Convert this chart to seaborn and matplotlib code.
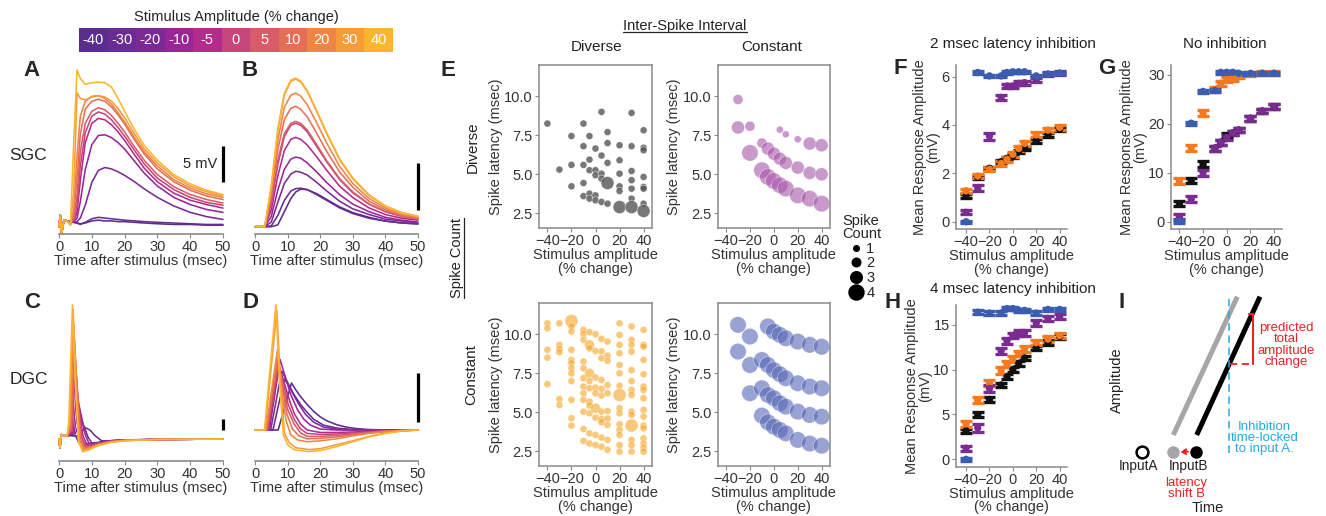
import numpy as np
import matplotlib
matplotlib.use('Agg')
import matplotlib.pyplot as plt
from matplotlib.colors import ListedColormap
from matplotlib.lines import Line2D
from matplotlib.ticker import FormatStrFormatter
import seaborn as sns

# ---------------- data ----------------
AMPS = [-40, -30, -20, -10, -5, 0, 5, 10, 20, 30, 40]
AMP_LABELS = ['-40', '-30', '-20', '-10', '-5', '0', '5', '10', '20', '30', '40']
AMP_COLORS = ['#5b2d8e', '#6a2b92', '#7b2a95', '#9a2597', '#b32b8b', '#c6467a',
              '#d65c69', '#e46f56', '#ee8446', '#f69c39', '#fbb530']

# Panel A (SGC, recorded) : common time grid
A_T = [0, 0.4, 0.8, 1.5, 2.5, 3.5, 4.5, 5.5, 6.5, 8, 10, 12, 14, 16, 18, 20, 23, 26, 30, 35, 40, 45, 50]
A_V = {
    40: [0, 1.6, -1.0, 0.9, 0.8, 0.2, 12, 22, 20.8, 20.0, 20.2, 20.3, 20.2, 19.6, 18.0, 16.2, 13.6, 11.4, 9.3, 7.3, 6.0, 5.1, 4.5],
    30: [0, 1.6, -1.0, 0.9, 0.8, 0.2, 5, 18.8, 18.0, 17.8, 18.2, 18.4, 18.2, 17.6, 16.6, 15.3, 13.0, 10.9, 8.9, 7.0, 5.7, 4.9, 4.3],
    20: [0, 1.6, -1.0, 0.9, 0.8, 0.3, 2.5, 10, 15.5, 17.6, 18.3, 18.4, 18.0, 17.2, 16.0, 14.7, 12.5, 10.5, 8.5, 6.6, 5.4, 4.6, 4.1],
    10: [0, 1.6, -1.0, 0.9, 0.8, 0.4, 1.5, 7, 13, 16.5, 17.6, 17.9, 17.6, 16.8, 15.7, 14.4, 12.2, 10.2, 8.1, 6.3, 5.1, 4.3, 3.8],
    5: [0, 1.6, -1.0, 0.9, 0.8, 0.5, 1.0, 4.5, 10.5, 14.5, 16.2, 16.7, 16.4, 15.6, 14.5, 13.3, 11.2, 9.3, 7.3, 5.6, 4.5, 3.8, 3.3],
    0: [0, 1.6, -1.0, 0.9, 0.8, 0.5, 0.9, 3.0, 8.5, 13.2, 15.5, 16.1, 15.8, 15.0, 13.9, 12.7, 10.7, 8.8, 6.8, 5.2, 4.1, 3.4, 3.0],
    -5: [0, 1.6, -1.0, 0.9, 0.8, 0.5, 0.8, 2.0, 6.5, 11.8, 14.5, 15.2, 15.0, 14.3, 13.3, 12.1, 10.1, 8.2, 6.3, 4.7, 3.7, 3.1, 2.6],
    -10: [0, 1.6, -1.0, 0.9, 0.8, 0.6, 0.7, 1.2, 3.5, 8.0, 11.5, 12.8, 12.9, 12.5, 11.8, 10.9, 9.2, 7.5, 5.7, 4.1, 3.1, 2.4, 2.0],
    -20: [0, 1.6, -1.0, 0.9, 0.8, 0.6, 0.6, 0.7, 1.2, 3.0, 6.2, 7.9, 8.3, 8.1, 7.7, 7.2, 6.3, 5.3, 4.1, 2.9, 2.0, 1.4, 1.0],
    -30: [0, 1.6, -1.0, 0.9, 0.8, 0.7, 0.6, 0.5, 0.3, 0.6, 1.1, 1.3, 1.2, 1.1, 1.0, 0.9, 0.8, 0.7, 0.6, 0.5, 0.4, 0.3, 0.3],
    -40: [0, 1.6, -1.0, 0.9, 0.8, 0.7, 0.6, 0.5, 0.4, 0.5, 0.8, 0.9, 0.8, 0.8, 0.7, 0.7, 0.6, 0.5, 0.4, 0.3, 0.3, 0.2, 0.2],
}

# Panel B (SGC, model)
B_T = [0, 3, 5, 7, 9, 11, 12.5, 14, 16, 19, 22, 26, 30, 35, 40, 45, 50]
B_V = {
    40: [0, 0, 4.4, 10.4, 14.2, 15.6, 15.8, 15.5, 14.5, 12.3, 10.0, 7.2, 5.2, 3.4, 2.2, 1.5, 1.1],
    30: [0, 0, 4.2, 10.2, 14.0, 15.5, 15.7, 15.4, 14.4, 12.2, 9.9, 7.1, 5.1, 3.3, 2.2, 1.5, 1.1],
    20: [0, 0, 3.8, 9.2, 12.7, 14.0, 14.2, 13.9, 13.0, 11.0, 8.9, 6.4, 4.6, 3.0, 2.0, 1.3, 1.0],
    10: [0, 0, 3.3, 8.2, 11.4, 12.6, 12.8, 12.5, 11.7, 9.9, 8.0, 5.8, 4.2, 2.7, 1.8, 1.2, 0.9],
    5: [0, 0, 2.8, 7.1, 9.9, 11.0, 11.2, 11.0, 10.3, 8.7, 7.0, 5.1, 3.7, 2.4, 1.6, 1.1, 0.8],
    0: [0, 0, 2.4, 6.6, 9.6, 10.8, 11.0, 10.8, 10.1, 8.5, 6.9, 5.0, 3.6, 2.4, 1.6, 1.1, 0.8],
    -5: [0, 0, 1.8, 5.4, 8.1, 9.3, 9.5, 9.3, 8.7, 7.4, 6.0, 4.3, 3.1, 2.0, 1.3, 0.9, 0.7],
    -10: [0, 0, 1.1, 3.9, 6.1, 7.2, 7.4, 7.3, 6.8, 5.8, 4.7, 3.4, 2.4, 1.6, 1.0, 0.7, 0.5],
    -20: [0, 0, 0.5, 2.6, 4.6, 5.6, 5.9, 5.8, 5.5, 4.7, 3.8, 2.7, 1.9, 1.3, 0.8, 0.6, 0.4],
    -30: [0, 0, 0.1, 1.2, 2.8, 3.8, 4.05, 4.1, 3.95, 3.4, 2.8, 2.0, 1.4, 0.9, 0.6, 0.4, 0.3],
    -40: [0, 0, 0, 0.2, 1.6, 3.0, 3.7, 4.0, 3.95, 3.5, 2.9, 2.1, 1.5, 1.0, 0.6, 0.4, 0.3],
}

# Panel C (DGC, recorded)
C_PRE_T = [0, 0.3, 0.7, 1.5, 2.5]
C_PRE_V = [0, -4, 2, 1.5, 1.5]
C_T = {
    40: [3.0, 4.1, 5.0, 5.9, 7.2, 9, 12, 16, 20, 30, 50],
    30: [3.2, 4.3, 5.2, 6.1, 7.4, 9, 12, 16, 20, 30, 50],
    20: [3.4, 4.5, 5.4, 6.3, 7.6, 9.2, 12, 16, 20, 30, 50],
    10: [3.6, 4.7, 5.6, 6.5, 7.8, 9.4, 12, 16, 20, 30, 50],
    5: [3.8, 4.9, 5.8, 6.7, 8.0, 9.6, 12, 16, 20, 30, 50],
    0: [4.0, 5.1, 6.0, 6.9, 8.2, 9.8, 12, 16, 20, 30, 50],
    -5: [4.3, 5.5, 6.4, 7.3, 8.6, 10, 12.5, 16, 20, 30, 50],
    -10: [4.6, 6.1, 7.0, 8.0, 9.2, 10.5, 13, 16, 20, 30, 50],
    -20: [5.0, 6.6, 7.6, 8.8, 10, 11.5, 14, 16, 20, 30, 50],
    -30: [3.5, 5.5, 6.5, 8.0, 9.5, 11, 13, 16, 20, 30, 50],
    -40: [3.5, 5.0, 6.0, 7.0, 9, 11, 13, 16, 20, 30, 50],
}
C_V = {
    40: [8, 61, 25, -1, -5.8, -5, -3, -1.5, -0.8, -0.2, 0],
    30: [8, 59, 24, -1, -5.3, -4.6, -2.8, -1.4, -0.7, -0.2, 0],
    20: [7, 52, 22, -0.5, -4.8, -4.2, -2.6, -1.3, -0.7, -0.2, 0],
    10: [6, 45, 20, 0, -4.3, -3.8, -2.4, -1.2, -0.6, -0.2, 0],
    5: [5, 38, 17, 0.5, -3.8, -3.4, -2.2, -1.1, -0.6, -0.2, 0],
    0: [4, 32, 15, 1, -3.3, -3.0, -2.0, -1.0, -0.5, -0.2, 0],
    -5: [3.5, 22, 11, 1.5, -2.8, -2.6, -1.8, -0.9, -0.5, -0.2, 0],
    -10: [3, 15.5, 9, 2, -2.2, -2.2, -1.5, -0.8, -0.4, -0.2, 0],
    -20: [2.5, 9.4, 6, 1, -1.8, -1.8, -1.2, -0.7, -0.4, -0.2, 0],
    -30: [1.5, 1.3, 2.5, 5.2, 4, 1.5, -0.8, -1.0, -0.6, -0.2, 0],
    -40: [1.8, 1.6, -1.5, -2.0, -2.1, -1.8, -1.2, -0.8, -0.5, -0.2, 0],
}

# Panel D (DGC, model)
D_T = {
    40: [0, 2.9, 6.4, 7.5, 8.7, 10, 12, 16, 20, 25, 30, 35, 40, 45, 50],
    30: [0, 3.1, 6.7, 7.8, 9.0, 10.5, 12.5, 16.5, 20, 25, 30, 35, 40, 45, 50],
    20: [0, 3.3, 6.9, 8.2, 9.5, 11, 13, 16, 20, 25, 30, 35, 40, 45, 50],
    10: [0, 3.5, 7.0, 8.4, 9.8, 11.5, 13.5, 16, 20, 25, 30, 35, 40, 45, 50],
    5: [0, 3.7, 7.1, 8.6, 10, 12, 14, 16, 20, 25, 30, 35, 40, 45, 50],
    0: [0, 3.9, 7.2, 8.8, 10.2, 12, 14, 16, 20, 25, 30, 35, 40, 45, 50],
    -5: [0, 4.1, 7.4, 9.0, 10.5, 12, 14, 16, 20, 25, 30, 35, 40, 45, 50],
    -10: [0, 4.4, 7.7, 9.3, 11, 13, 15, 17, 20, 25, 30, 35, 40, 45, 50],
    -20: [0, 4.8, 8.2, 9.8, 11.5, 13.5, 15.5, 18, 21, 25, 30, 35, 40, 45, 50],
    -30: [0, 5.5, 9.0, 10.5, 12, 14, 16, 18, 21, 25, 30, 35, 40, 45, 50],
    -40: [0, 7.1, 11.2, 12.5, 14, 16, 18, 20, 22, 25, 28, 31, 35, 40, 50],
}
D_V = {
    40: [0, 0, 12.8, 5.0, -0.5, -1.5, -2.0, -2.2, -2.1, -1.7, -1.2, -0.7, -0.35, -0.1, 0],
    30: [0, 0, 12.2, 5.0, -0.3, -1.3, -1.8, -2.0, -1.9, -1.5, -1.1, -0.65, -0.3, -0.1, 0],
    20: [0, 0, 8.2, 4.0, 1.0, -0.5, -1.0, -1.2, -1.1, -0.9, -0.6, -0.35, -0.15, -0.05, 0],
    10: [0, 0, 7.6, 4.3, 1.6, 0.1, -0.6, -0.9, -0.85, -0.7, -0.5, -0.3, -0.15, -0.05, 0],
    5: [0, 0, 7.0, 4.4, 2.1, 0.6, -0.3, -0.65, -0.65, -0.55, -0.4, -0.25, -0.1, -0.05, 0],
    0: [0, 0, 6.8, 4.6, 2.6, 1.1, 0.1, -0.35, -0.45, -0.4, -0.3, -0.2, -0.1, -0.05, 0],
    -5: [0, 0, 6.5, 4.8, 3.1, 1.7, 0.6, 0, -0.25, -0.25, -0.2, -0.15, -0.1, -0.03, 0],
    -10: [0, 0, 7.2, 5.4, 3.6, 2.1, 1.1, 0.5, 0.1, 0, 0, 0, 0, 0, 0],
    -20: [0, 0, 6.0, 5.0, 3.8, 2.6, 1.6, 0.8, 0.3, 0.1, 0, 0, 0, 0, 0],
    -30: [0, 0, 5.2, 4.5, 3.6, 2.6, 1.8, 1.1, 0.5, 0.2, 0.05, 0, 0, 0, 0],
    -40: [0, 0, 4.8, 4.1, 3.4, 2.6, 1.9, 1.35, 0.95, 0.55, 0.3, 0.15, 0.05, 0, 0],
}

# Panel E : spike latency scatter; {amplitude: (latencies, spike counts)}
E_DIV_DIV = {
    -40: ([8.25], [1]),
    -30: ([5.3], [1]),
    -20: ([7.45, 5.6, 4.23], [1, 1, 1]),
    -10: ([8.25, 6.8, 5.6, 4.44, 3.6], [1, 1, 1, 1, 1]),
    -5: ([7.45, 5.94, 5.26, 3.76, 3.44], [1, 1, 1, 1, 1]),
    0: ([6.65, 5.26, 4.94, 3.65, 3.33], [1, 1, 1, 1, 1]),
    5: ([9.0, 6.2, 5.04, 4.72, 3.23], [1, 1, 1, 1, 1]),
    10: ([7.7, 7.0, 5.73, 4.44, 3.12], [1, 1, 1, 3, 1]),
    20: ([6.86, 5.9, 5.04, 4.23, 3.93, 2.9], [1, 1, 1, 1, 1, 3]),
    30: ([8.93, 6.8, 5.21, 4.62, 4.08, 3.44, 2.9], [1, 1, 1, 1, 1, 1, 3]),
    40: ([7.82, 6.7, 6.54, 4.83, 4.19, 4.08, 3.12, 2.65], [1, 1, 1, 1, 1, 1, 1, 3]),
}
E_CON_DIV = {
    -30: ([9.79, 8.0], [2, 3]),
    -20: ([8.08, 6.37], [2, 4]),
    -10: ([7.0, 5.26], [2, 4]),
    -5: ([6.65, 4.83], [3, 4]),
    0: ([6.32, 4.57], [3, 4]),
    5: ([7.86, 6.0, 4.3], [1, 3, 4]),
    10: ([7.56, 5.73, 4.08], [1, 3, 4]),
    20: ([7.24, 5.43, 3.65], [1, 3, 4]),
    30: ([6.97, 5.09, 3.44], [3, 3, 4]),
    40: ([6.86, 5.0, 3.12], [3, 3, 4]),
}
E_DIV_CON = {
    -40: ([10.7, 10.38, 9.0, 8.5, 6.8], [1, 1, 1, 1, 1]),
    -30: ([10.7, 9.32, 9.06, 8.85, 5.85, 5.47], [1, 1, 1, 1, 1, 1]),
    -20: ([10.85, 10.5, 10.17, 9.0, 8.35, 8.14, 7.82, 7.5, 7.0, 5.8, 4.62, 4.15],
          [3, 1, 1, 1, 1, 1, 1, 1, 1, 1, 1, 1]),
    -10: ([10.28, 10.0, 9.64, 8.25, 7.82, 7.18, 6.65, 6.22, 5.8, 5.04, 3.93, 3.16],
          [1, 1, 1, 1, 1, 1, 1, 1, 1, 1, 1, 1]),
    -5: ([10.13, 9.32, 9.1, 7.5, 7.0, 6.54, 5.68, 5.43, 4.94, 3.65, 3.0],
         [1, 2, 1, 2, 1, 1, 1, 1, 1, 1, 1]),
    0: ([10.0, 8.93, 7.22, 6.58, 6.22, 5.26, 4.66, 3.55, 2.9], [1, 1, 1, 1, 1, 2, 1, 1, 1]),
    5: ([9.7, 8.9, 8.46, 7.07, 6.5, 6.07, 5.04, 4.57, 4.36, 3.38, 2.8],
        [1, 1, 1, 1, 1, 1, 1, 1, 1, 1, 1]),
    10: ([9.53, 8.63, 8.3, 6.75, 6.22, 5.08, 4.6, 4.19, 3.23, 2.6], [1, 1, 1, 1, 1, 1, 1, 1, 1, 1]),
    20: ([10.7, 9.96, 9.32, 8.78, 8.03, 7.5, 6.7, 6.11, 5.26, 4.94, 4.23, 3.87, 3.55, 2.9, 2.48],
         [1, 1, 1, 1, 1, 1, 1, 3, 1, 1, 1, 1, 1, 1, 1]),
    30: ([10.5, 9.64, 9.32, 8.89, 7.7, 7.0, 6.43, 6.11, 5.04, 4.83, 4.15, 3.23, 2.9, 2.48],
         [1, 1, 1, 1, 1, 1, 1, 1, 1, 1, 3, 1, 1, 1]),
    40: ([10.28, 9.32, 9.2, 8.35, 7.44, 6.65, 6.43, 5.9, 5.15, 4.72, 4.15, 3.97, 3.33, 3.0, 2.73, 2.48],
         [1, 1, 1, 1, 1, 1, 1, 1, 1, 1, 1, 1, 1, 1, 1, 1]),
}
E_CON_CON = {
    -30: ([10.6, 8.89], [4, 4]),
    -20: ([9.85, 8.03, 6.22], [4, 4, 4]),
    -10: ([8.35, 6.54, 4.79], [4, 4, 4]),
    -5: ([10.5, 8.03, 6.11, 4.36], [4, 4, 4, 4]),
    0: ([10.17, 7.7, 5.9, 4.08], [4, 4, 4, 4]),
    5: ([9.96, 7.44, 5.58, 3.87], [4, 4, 4, 4]),
    10: ([9.74, 7.18, 5.36, 3.65], [4, 4, 4, 4]),
    20: ([9.53, 6.86, 5.04, 3.23], [4, 4, 4, 4]),
    30: ([9.32, 6.65, 4.83, 3.0], [4, 4, 4, 4]),
    40: ([9.2, 6.54, 4.72, 2.86], [4, 4, 4, 4]),
}
SPIKE_COUNTS = [1, 2, 3, 4]

# Panels F-H : mean response amplitude (mV) per condition
STIM = [-40, -30, -20, -10, -5, 0, 5, 10, 20, 30, 40]
F_DATA = {
    'blue': [0, 6.17, 6.03, 6.03, 6.17, 6.2, 6.2, 6.2, 6.03, 6.1, 6.14],
    'purple': [0.39, 1.38, 3.54, 5.14, 5.61, 5.61, 5.72, 5.75, 5.86, 6.1, 6.14],
    'orange': [1.28, 1.89, 2.17, 2.41, 2.58, 2.79, 3.03, 3.24, 3.59, 3.79, 3.9],
    'black': [1.06, 1.83, 2.21, 2.48, 2.62, 2.72, 2.9, 3.03, 3.35, 3.59, 3.82],
}
F_ERR = {
    'blue': [0.04, 0.05, 0.05, 0.05, 0.05, 0.04, 0.04, 0.04, 0.05, 0.05, 0.05],
    'purple': [0.08, 0.12, 0.14, 0.1, 0.08, 0.08, 0.08, 0.08, 0.08, 0.08, 0.08],
    'orange': [0.09, 0.09, 0.09, 0.09, 0.09, 0.1, 0.1, 0.1, 0.1, 0.1, 0.09],
    'black': [0.07, 0.07, 0.07, 0.07, 0.07, 0.07, 0.07, 0.07, 0.08, 0.08, 0.08],
}
G_DATA = {
    'blue': [0, 20.1, 26.6, 26.8, 30.5, 30.5, 30.5, 30.3, 30.3, 30.3, 30.3],
    'orange': [8.2, 15.1, 22.2, 26.9, 28.3, 29.0, 29.3, 29.8, 30.2, 30.3, 30.3],
    'black': [3.6, 8.3, 11.7, 15.0, 16.2, 17.5, 18.1, 18.7, 21.1, 22.6, 23.5],
    'purple': [1.0, 4.6, 10.0, 15.0, 16.2, 17.2, 18.1, 18.7, 21.1, 22.6, 23.5],
}
G_ERR = {
    'blue': [0.3, 0.3, 0.3, 0.3, 0.3, 0.3, 0.3, 0.3, 0.3, 0.3, 0.3],
    'orange': [0.6, 0.6, 0.6, 0.5, 0.5, 0.5, 0.5, 0.5, 0.4, 0.4, 0.4],
    'black': [0.5, 0.5, 0.6, 0.5, 0.5, 0.5, 0.5, 0.5, 0.5, 0.5, 0.5],
    'purple': [0.5, 0.6, 0.6, 0.5, 0.5, 0.5, 0.5, 0.5, 0.5, 0.5, 0.5],
}
H_DATA = {
    'blue': [0, 16.4, 16.3, 16.3, 16.8, 16.8, 16.6, 16.6, 16.3, 16.7, 16.7],
    'purple': [1.24, 3.5, 7.9, 12.1, 13.2, 13.8, 14.1, 14.1, 15.2, 15.7, 15.9],
    'orange': [3.97, 6.6, 8.5, 9.9, 10.6, 11.2, 11.8, 12.3, 13.0, 13.4, 13.8],
    'black': [3.18, 4.98, 6.67, 8.28, 9.21, 10.0, 10.7, 11.3, 12.4, 13.0, 13.7],
}
H_ERR = {
    'blue': [0.15, 0.2, 0.2, 0.2, 0.2, 0.2, 0.2, 0.2, 0.2, 0.2, 0.2],
    'purple': [0.3, 0.45, 0.35, 0.35, 0.3, 0.3, 0.3, 0.3, 0.3, 0.3, 0.3],
    'orange': [0.35, 0.3, 0.3, 0.35, 0.35, 0.3, 0.3, 0.3, 0.3, 0.3, 0.25],
    'black': [0.25, 0.25, 0.25, 0.25, 0.25, 0.25, 0.25, 0.25, 0.25, 0.25, 0.25],
}
COND_COLORS = {'blue': '#3a5db2', 'purple': '#7b2c90', 'orange': '#f47a20', 'black': '#111111'}

# Panel I schematic (arbitrary time / amplitude units)
I_GRAY_LINE = ([63.3, 127.3], [80, 218.3])
I_BLACK_LINE = ([86.7, 150.0], [80, 218.3])
I_INHIB_X = 119.3
I_INHIB_Y = [62, 218.3]
I_CHANGE_X = 142.7
I_CHANGE_Y = [151, 201.5]
I_INPUT_Y = 63.3
I_INPUT_X = {'A': 31.7, 'B_shift': 62.7, 'B': 86.0}

# ---------------- style ----------------
sns.set_style('ticks')
plt.rcParams['font.family'] = ['Liberation Sans', 'DejaVu Sans']
plt.rcParams['axes.unicode_minus'] = True

W, H = 1326, 516
fig = plt.figure(figsize=(W / 100, H / 100), dpi=100)
TXT = '#333333'
SPINE = '#8a8a8a'


def add_ax(l, t, r, b):
    return fig.add_axes([l / W, 1 - b / H, (r - l) / W, (b - t) / H])


def ftext(x, y, s, **kw):
    return fig.text(x / W, 1 - y / H, s, **kw)


# ---------------- colour key ----------------
cax = add_ax(79, 28, 392.7, 51.7)
sns.heatmap(np.arange(len(AMPS)).reshape(1, -1), ax=cax, cmap=ListedColormap(AMP_COLORS),
            cbar=False, annot=np.array([AMP_LABELS]), fmt='',
            annot_kws={'color': 'white', 'fontsize': 10.5},
            xticklabels=False, yticklabels=False)
ftext(236, 16.5, 'Stimulus Amplitude (% change)', ha='center', va='center', fontsize=10.5, color='#222')


# ---------------- traces ----------------
def trace_axes(ax, ylim):
    ax.set_xlim(0, 50)
    ax.set_ylim(*ylim)
    for s in ['left', 'top', 'right']:
        ax.spines[s].set_visible(False)
    ax.spines['bottom'].set_color(SPINE)
    ax.spines['bottom'].set_linewidth(1.2)
    ax.set_yticks([])
    ax.set_xticks([0, 10, 20, 30, 40, 50])
    ax.tick_params(axis='x', colors=SPINE, labelcolor=TXT, labelsize=10.5, length=3, pad=1.5)
    ax.set_xlabel('Time after stimulus (msec)', fontsize=10.5, color=TXT, labelpad=0)
    ax.set_ylabel('')
    ax.patch.set_alpha(0)


def draw_traces(ax, times, volts, common):
    for amp, col in zip(AMPS, AMP_COLORS):
        t = times if common else times[amp]
        v = volts[amp]
        sns.lineplot(x=t, y=v, ax=ax, color=col, lw=1.15, estimator=None, clip_on=False)


axA = add_ax(59, 65, 223, 233.5)
draw_traces(axA, A_T, A_V, True)
trace_axes(axA, (-0.97, 22.7))
axA.plot([50, 50], [6.3, 11.3], color='black', lw=2.3, clip_on=False, solid_capstyle='butt')
axA.text(48.2, 8.8, '5 mV', ha='right', va='center', fontsize=10.5, color='#222')

axB = add_ax(255, 65, 418, 233.5)
draw_traces(axB, B_T, B_V, True)
trace_axes(axB, (-0.72, 17.2))
axB.plot([50, 50], [1.78, 6.78], color='black', lw=2.3, clip_on=False, solid_capstyle='butt')

axC = add_ax(59, 295, 223, 460.7)
C_FULL_T = {a: C_PRE_T + C_T[a] for a in AMPS}
C_FULL_V = {a: C_PRE_V + C_V[a] for a in AMPS}
draw_traces(axC, C_FULL_T, C_FULL_V, False)
trace_axes(axC, (-9.86, 65.5))
axC.plot([50, 50], [4.1, 9.1], color='black', lw=2.3, clip_on=False, solid_capstyle='butt')

axD = add_ax(255, 295, 418, 460.7)
draw_traces(axD, D_T, D_V, False)
trace_axes(axD, (-3.13, 13.78))
axD.plot([50, 50], [0.8, 5.8], color='black', lw=2.3, clip_on=False, solid_capstyle='butt')

for x, y, s in [(32, 70, 'A'), (250, 70, 'B'), (32, 302, 'C'), (250, 302, 'D')]:
    ftext(x, y, s, ha='center', va='center', fontsize=16, fontweight='bold')
ftext(28, 155, 'SGC', ha='center', va='center', fontsize=12.5)
ftext(29, 380, 'DGC', ha='center', va='center', fontsize=12.5)

# ---------------- E scatter ----------------
SIZE_MAP = {1: 26, 2: 52, 3: 88, 4: 140}


def scatter_axes(ax, cols, color, alpha):
    xs, ys, ss = [], [], []
    for amp, (lat, cnt) in cols.items():
        xs += [amp] * len(lat)
        ys += lat
        ss += cnt
    sns.scatterplot(x=xs, y=ys, size=ss, sizes=SIZE_MAP, color=color, alpha=alpha,
                    edgecolor='white', linewidth=0.4, legend=False, ax=ax)
    ax.set_xlim(-47, 47)
    ax.set_ylim(1.56, 12.0)
    ax.set_xticks([-40, -20, 0, 20, 40])
    ax.set_yticks([2.5, 5.0, 7.5, 10.0])
    ax.yaxis.set_major_formatter(FormatStrFormatter('%.1f'))
    for s in ax.spines.values():
        s.set_color(SPINE)
        s.set_linewidth(1.1)
    ax.tick_params(colors=SPINE, labelcolor=TXT, labelsize=10.5, length=3, pad=1.5)
    ax.set_xlabel('Stimulus amplitude\n(% change)', fontsize=10.5, color=TXT, labelpad=0, linespacing=0.95)
    ax.set_ylabel('Spike latency (msec)', fontsize=10.5, color=TXT, labelpad=1)


scatter_axes(add_ax(539, 65, 652, 228), E_DIV_DIV, '#555555', 0.8)
scatter_axes(add_ax(717.7, 65, 830, 228), E_CON_DIV, '#a855aa', 0.6)
scatter_axes(add_ax(539, 303, 652, 466), E_DIV_CON, '#f6a524', 0.6)
scatter_axes(add_ax(717.7, 303, 830, 466), E_CON_CON, '#5566b6', 0.6)

ftext(448, 70, 'E', ha='center', va='center', fontsize=16, fontweight='bold')
t_isi = ftext(685, 26, 'Inter-Spike Interval', ha='center', va='center', fontsize=10.5, color='#222')
ftext(597, 47, 'Diverse', ha='center', va='center', fontsize=11, color='#222')
ftext(772, 47, 'Constant', ha='center', va='center', fontsize=11, color='#222')
ftext(473, 147, 'Diverse', ha='center', va='center', fontsize=11, rotation=90, color='#222')
ftext(471, 375, 'Constant', ha='center', va='center', fontsize=11, rotation=90, color='#222')
t_sc = ftext(457, 258, 'Spike Count', ha='center', va='center', fontsize=10.5, rotation=90, color='#222')

handles = [Line2D([], [], ls='', marker='o', color='black', markeredgewidth=0,
                  markersize=np.sqrt(SIZE_MAP[c])) for c in SPIKE_COUNTS]
leg = fig.legend(handles, [str(c) for c in SPIKE_COUNTS], title='Spike\nCount',
                 loc='upper left', bbox_to_anchor=(842 / W, 1 - 214 / H), frameon=False,
                 fontsize=10.5, title_fontsize=10.5, labelspacing=0.05, handletextpad=0.2,
                 handlelength=1.0, borderpad=0, borderaxespad=0)
leg.get_title().set_linespacing(0.9)


# ---------------- F-H ----------------
def amp_axes(ax, data, err, xlim, ylim, yticks, order):
    for key in order:
        c = COND_COLORS[key]
        ax.errorbar(STIM, data[key], yerr=err[key], fmt='none', ecolor=c, elinewidth=2.2,
                    capsize=4.2, capthick=2.4, zorder=2)
        sns.scatterplot(x=STIM, y=data[key], color=c, s=28, edgecolor='none', ax=ax, zorder=3)
    ax.set_xlim(*xlim)
    ax.set_ylim(*ylim)
    ax.set_xticks([-40, -20, 0, 20, 40])
    ax.set_yticks(yticks)
    for s in ['top', 'right']:
        ax.spines[s].set_visible(False)
    for s in ['left', 'bottom']:
        ax.spines[s].set_color(SPINE)
        ax.spines[s].set_linewidth(1.1)
    ax.tick_params(colors=SPINE, labelcolor=TXT, labelsize=10.5, length=3, pad=1.5)
    ax.set_xlabel('Stimulus amplitude\n(% change)', fontsize=10.5, color=TXT, labelpad=0, linespacing=0.95)
    ax.set_ylabel('Mean Response Amplitude\n(mV)', fontsize=10.5, color=TXT, labelpad=1, linespacing=0.9)
    ax.patch.set_alpha(0)


ORDER = ['black', 'orange', 'purple', 'blue']
amp_axes(add_ax(956, 65, 1067, 229), F_DATA, F_ERR, (-48.6, 46.3), (-0.3, 6.48), [0, 2, 4, 6], ORDER)
amp_axes(add_ax(1170.7, 65, 1282, 229), G_DATA, G_ERR, (-47.3, 46.6), (-1.53, 32.0), [0, 10, 20, 30],
         ['black', 'purple', 'orange', 'blue'])
amp_axes(add_ax(956, 305, 1067, 466.7), H_DATA, H_ERR, (-48.6, 46.3), (-0.82, 17.2), [0, 5, 10, 15], ORDER)

ftext(1013, 44, '2 msec latency inhibition', ha='center', va='center', fontsize=11, color='#222')
ftext(1225, 44, 'No inhibition', ha='center', va='center', fontsize=11, color='#222')
ftext(1013, 289, '4 msec latency inhibition', ha='center', va='center', fontsize=11, color='#222')
for x, y, s in [(900, 68, 'F'), (1107, 68, 'G'), (893, 302, 'H'), (1122, 302, 'I')]:
    ftext(x, y, s, ha='center', va='center', fontsize=16, fontweight='bold')

# ---------------- I schematic ----------------
axI = add_ax(1110, 285, 1326, 515)
axI.set_xlim(0, 216)
axI.set_ylim(0, 230)
axI.axis('off')
RED = '#ec2227'
BLUE = '#2aa8e0'
axI.plot(*I_GRAY_LINE, color='#a6a6a6', lw=3.6, solid_capstyle='butt')
axI.plot(*I_BLACK_LINE, color='black', lw=3.6, solid_capstyle='butt')
axI.plot([I_INHIB_X, I_INHIB_X], I_INHIB_Y, color=BLUE, lw=1.1, ls=(0, (5, 3)))
axI.plot([I_CHANGE_X, I_CHANGE_X], I_CHANGE_Y, color=RED, lw=1.5)
axI.plot([I_CHANGE_X - 4, I_CHANGE_X], [I_CHANGE_Y[1], I_CHANGE_Y[1]], color=RED, lw=1.5)
axI.plot([I_INHIB_X + 1, I_CHANGE_X], [I_CHANGE_Y[0], I_CHANGE_Y[0]], color=RED, lw=1.3, ls=(0, (4, 2.5)))
axI.plot([I_INPUT_X['A']], [I_INPUT_Y], marker='o', ms=8.5, mfc='white', mec='black', mew=1.8)
axI.plot([I_INPUT_X['B_shift']], [I_INPUT_Y], marker='o', ms=9, mfc='#a6a6a6', mec='none')
axI.plot([I_INPUT_X['B']], [I_INPUT_Y], marker='o', ms=9, mfc='black', mec='none')
axI.annotate('', xy=(I_INPUT_X['B_shift'] + 4, I_INPUT_Y), xytext=(I_INPUT_X['B'] - 5, I_INPUT_Y),
             arrowprops=dict(arrowstyle='-|>', color=RED, lw=1.2, ls=(0, (3, 2)), mutation_scale=9))
axI.text(28, 49, 'InputA', ha='center', va='center', fontsize=9.8, color='#222')
axI.text(78, 49, 'InputB', ha='center', va='center', fontsize=9.8, color='#222')
axI.text(76, 26.5, 'latency\nshift B', ha='center', va='center', fontsize=9.5, color=RED, linespacing=0.85)
axI.text(98, 7, 'Time', ha='center', va='center', fontsize=10.5, color='#222')
axI.text(6.7, 135, 'Amplitude', ha='center', va='center', fontsize=10.5, rotation=90, color='#222')
axI.text(154.5, 77, 'Inhibition\ntime-locked\nto input A.', ha='center', va='center', fontsize=9.5,
         color=BLUE, linespacing=0.9)
axI.text(176, 170, 'predicted\ntotal\namplitude\nchange', ha='center', va='center', fontsize=9.5,
         color=RED, linespacing=0.9)

# ---------------- underlines ----------------
fig.canvas.draw()
r = fig.canvas.get_renderer()
bb = t_isi.get_window_extent(r)
fig.add_artist(Line2D([bb.x0 / W, bb.x1 / W], [(bb.y0 + 1) / H, (bb.y0 + 1) / H],
                      color='#222', lw=0.9, transform=fig.transFigure))
bb = t_sc.get_window_extent(r)
fig.add_artist(Line2D([(bb.x1 - 0.5) / W, (bb.x1 - 0.5) / W], [bb.y0 / H, bb.y1 / H],
                      color='#222', lw=0.9, transform=fig.transFigure))

fig.savefig('out.png', dpi=100)
